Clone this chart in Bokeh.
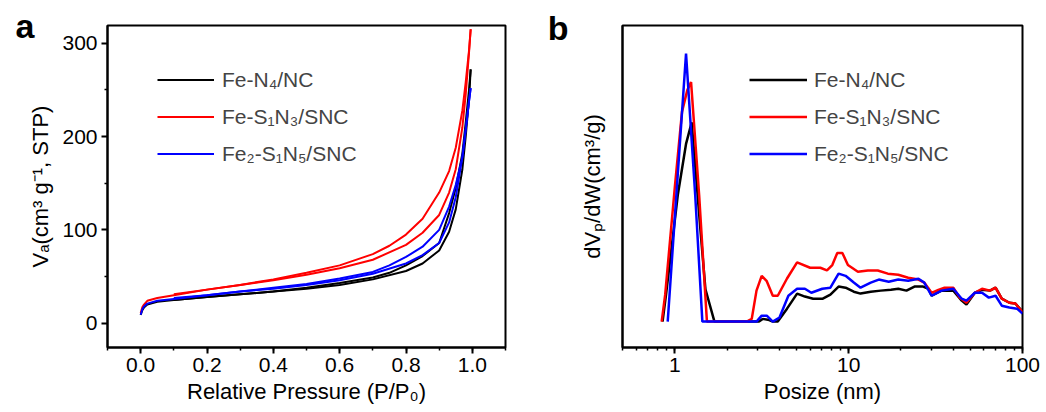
from bokeh.plotting import figure
from bokeh.layouts import row
from bokeh.models import (Legend, LegendItem, LinearAxis, SingleIntervalTicker, FixedTicker,
                          NumeralTickFormatter, LogTicker, Range1d, CustomJSTickFormatter)
from bokeh.embed import file_html
from bokeh.resources import INLINE

FONT = "Liberation Sans"
names = ["Fe-N\u2084/NC", "Fe-S\u2081N\u2083/SNC", "Fe\u2082-S\u2081N\u2085/SNC"]
colors = ["#000000", "#ff0000", "#0000ff"]

# ---- panel a: N2 isotherms (adsorption + desorption) ----
p_ads = [0.0, 0.005, 0.01, 0.02, 0.05, 0.1, 0.2, 0.3, 0.4, 0.5, 0.6, 0.7, 0.8, 0.85, 0.9,
         0.93, 0.95, 0.97, 0.98, 0.99, 0.995]
black_ads = [9, 14, 17, 20, 23, 25, 28, 31, 34, 37, 41, 47, 56, 64, 78, 98, 122, 165, 200, 240, 272]
red_ads = [11, 17, 20, 24, 27, 30, 36, 41, 46, 52, 59, 68, 84, 97, 116, 140, 165, 210, 245, 290, 315]
blue_ads = [9, 15, 18, 21, 24, 26, 30, 34, 37, 41, 46, 53, 64, 73, 86, 108, 135, 178, 208, 238, 252]

p_des = [0.995, 0.99, 0.98, 0.97, 0.95, 0.93, 0.9, 0.85, 0.8, 0.75, 0.7, 0.6, 0.5, 0.4,
         0.3, 0.2, 0.1]
black_des = [272, 250, 215, 182, 145, 118, 86, 72, 62, 54, 49, 43, 38, 34, 31, 28, 25]
red_des = [315, 292, 258, 228, 188, 163, 140, 112, 95, 83, 74, 62, 54, 47, 41, 36, 31]
blue_des = [252, 238, 207, 178, 148, 125, 100, 82, 71, 62, 55, 48, 42, 38, 34, 30, 27]

# ---- panel b: pore size distribution ----
bx_black = [0.85, 0.89, 1.04, 1.16, 1.25, 1.4, 1.5, 1.69, 3.05, 3.2, 3.43, 3.66, 3.91, 4.42,
            5.05, 5.6, 6.25, 7.1, 7.85, 8.75, 9.6, 10.7, 11.7, 13.4, 15.3, 17.5, 19.3, 21.5,
            23.9, 26.8, 28.8, 30.0, 34.2, 40, 44.7, 47.6, 53.2, 58.5, 65, 70, 76, 84, 91, 100]
by_black = [0, 0.10, 0.47, 0.66, 0.74, 0.35, 0.12, 0, 0, 0.01, 0.007, 0, 0, 0.048, 0.104,
            0.093, 0.085, 0.085, 0.1, 0.13, 0.126, 0.111, 0.104, 0.111, 0.115, 0.118, 0.122,
            0.115, 0.13, 0.13, 0.122, 0.096, 0.115, 0.115, 0.078, 0.063, 0.107, 0.118, 0.115,
            0.126, 0.085, 0.07, 0.067, 0.037]
bx_red = [0.84, 0.88, 1.0, 1.1, 1.18, 1.24, 1.38, 1.53, 2.59, 2.77, 2.95, 3.16, 3.38, 3.66,
          3.91, 4.42, 5.05, 6.0, 6.87, 7.5, 8.05, 8.6, 9.2, 9.9, 11.3, 12.9, 14.7, 16.8, 19.3,
          22.0, 25.2, 27.2, 30.0, 32.8, 35.6, 40.0, 43.5, 47.6, 53.2, 58.5, 65, 70, 76, 84,
          91, 100]
by_red = [0, 0.1, 0.5, 0.78, 0.86, 0.89, 0.47, 0, 0, 0.01, 0.115, 0.17, 0.15, 0.096, 0.096,
          0.16, 0.22, 0.20, 0.20, 0.19, 0.21, 0.255, 0.255, 0.21, 0.185, 0.19, 0.19, 0.178,
          0.174, 0.163, 0.156, 0.145, 0.107, 0.118, 0.126, 0.126, 0.089, 0.07, 0.107, 0.122,
          0.115, 0.126, 0.085, 0.07, 0.067, 0.035]
bx_blue = [0.91, 1.16, 1.31, 1.44, 2.95, 3.16, 3.38, 3.66, 4.0, 4.5, 5.05, 5.6, 6.1, 7.05,
           7.85, 8.75, 9.6, 10.7, 11.7, 13.4, 14.9, 17.0, 19.3, 22.0, 25.2, 27.2, 30.0, 34.2,
           40, 44.7, 47.6, 53.2, 58.5, 64, 70, 76, 84, 93, 100]
by_blue = [0, 0.996, 0.47, 0, 0, 0.022, 0.022, 0, 0.015, 0.096, 0.122, 0.122, 0.107, 0.122,
           0.126, 0.178, 0.17, 0.145, 0.126, 0.145, 0.156, 0.148, 0.156, 0.152, 0.159, 0.145,
           0.096, 0.115, 0.122, 0.085, 0.078, 0.107, 0.107, 0.089, 0.096, 0.059, 0.052, 0.048,
           0.03]

ya_ticks = [0, 100, 200, 300]
panel_letters = ["a", "b"]


def style(p):
    p.outline_line_color = "black"
    p.outline_line_width = 2
    p.outline_line_alpha = 1
    p.xgrid.visible = False
    p.ygrid.visible = False
    p.background_fill_color = "white"
    p.border_fill_color = "white"
    for ax in p.xaxis + p.yaxis:
        ax.axis_line_width = 2
        ax.major_tick_line_width = 2
        ax.minor_tick_line_width = 1.5
        ax.major_tick_in = 0
        ax.minor_tick_in = 0
        ax.major_tick_out = 6
        ax.minor_tick_out = 3
        ax.major_label_text_font = FONT
        ax.major_label_text_font_size = "21px"
        ax.major_label_text_color = "black"
        ax.axis_label_text_font = FONT
        ax.axis_label_text_font_size = "22px"
        ax.axis_label_text_font_style = "normal"
        ax.axis_label_text_color = "black"


def letter_axis(letter, at, standoff):
    # a bare extra axis whose single tick label is the panel letter
    ax = LinearAxis(ticker=FixedTicker(ticks=[at], minor_ticks=[]),
                    formatter=CustomJSTickFormatter(code="return '%s';" % letter),
                    axis_line_color=None, major_tick_line_color=None,
                    minor_tick_line_color=None, major_tick_out=0, major_tick_in=0,
                    major_label_standoff=standoff,
                    major_label_text_font=FONT, major_label_text_font_size="34px",
                    major_label_text_font_style="bold", major_label_text_color="black")
    return ax


# Panel a  (frame: x 107..505, y 25..347)
pa = figure(width=540, height=412, output_backend="svg", toolbar_location=None,
            x_range=Range1d(-0.1, 1.1), y_range=Range1d(-26, 319),
            min_border_left=107, min_border_right=35, min_border_top=25, min_border_bottom=65)
style(pa)
pa.xaxis.ticker = SingleIntervalTicker(interval=0.2, num_minor_ticks=2)
pa.xaxis.formatter = NumeralTickFormatter(format="0.0")
pa.yaxis.ticker = FixedTicker(ticks=ya_ticks, minor_ticks=[-50, 50, 150, 250])
pa.xaxis.axis_label = "Relative Pressure (P/P\u2080)"
pa.yaxis.axis_label = "V\u2090(cm\u00b3 g\u207b\u00b9, STP)"
pa.xaxis.major_label_standoff = 4
pa.xaxis.axis_label_standoff = 4
pa.yaxis.major_label_standoff = 4
pa.yaxis.axis_label_standoff = 6

items_a = []
for name, c, ya, yd in zip(names, colors, [black_ads, red_ads, blue_ads],
                           [black_des, red_des, blue_des]):
    r1 = pa.line(p_ads, ya, line_color=c, line_width=2)
    r2 = pa.line(p_des, yd, line_color=c, line_width=2)
    items_a.append(LegendItem(label=name, renderers=[r1]))

leg_a = Legend(items=items_a, location=(50, 175), glyph_width=57, glyph_height=37,
               label_height=37, spacing=0, padding=0, margin=0, label_standoff=8,
               border_line_alpha=0, background_fill_alpha=0,
               label_text_font=FONT, label_text_font_size="21px")
pa.add_layout(leg_a)
pa.add_layout(letter_axis(panel_letters[0], 318, -9), "left")

# Panel b  (frame: x 622..1022, y 24..347)
pb = figure(width=506, height=412, output_backend="svg", toolbar_location=None,
            x_axis_type="log", x_range=Range1d(0.5, 100), y_range=Range1d(-0.0963, 1.1),
            min_border_left=82, min_border_right=24, min_border_top=24, min_border_bottom=65)
style(pb)
pb.xaxis.ticker = LogTicker(num_minor_ticks=10)
pb.xaxis.formatter = NumeralTickFormatter(format="0")
pb.yaxis.ticker = FixedTicker(ticks=[])
pb.yaxis.major_tick_line_color = None
pb.yaxis.minor_tick_line_color = None
pb.xaxis.axis_label = "Posize (nm)"
pb.yaxis.axis_label = "dV\u209a/dW(cm\u00b3/g)"
pb.xaxis.major_label_standoff = 4
pb.xaxis.axis_label_standoff = 4
pb.yaxis.axis_label_standoff = 18

items_b = []
for name, c, xs, ys in zip(names, colors, [bx_black, bx_red, bx_blue],
                           [by_black, by_red, by_blue]):
    r = pb.line(xs, ys, line_color=c, line_width=2.5)
    items_b.append(LegendItem(label=name, renderers=[r]))

leg_b = Legend(items=items_b, location=(127, 175), glyph_width=58, glyph_height=37,
               label_height=37, spacing=0, padding=0, margin=0, label_standoff=7,
               border_line_alpha=0, background_fill_alpha=0,
               label_text_font=FONT, label_text_font_size="21px")
pb.add_layout(leg_b)
pb.add_layout(letter_axis(panel_letters[1], 1.09, 8), "left")

layout = row(pa, pb)
open("out.html", "w").write(file_html(layout, INLINE))
